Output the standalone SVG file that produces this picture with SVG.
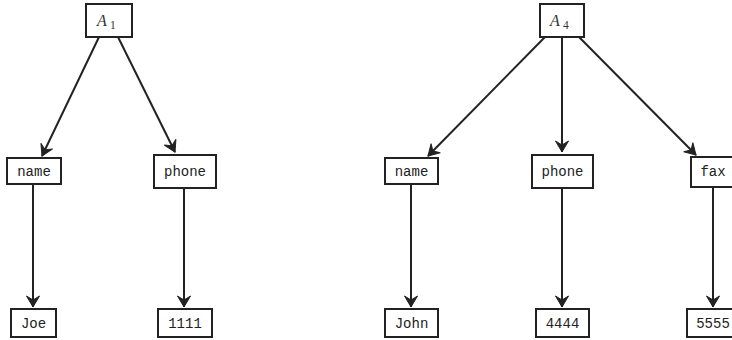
<svg xmlns="http://www.w3.org/2000/svg" width="732" height="340" viewBox="0 0 732 340">
<style>
.box{fill:#fff;stroke:#222;stroke-width:2}
.lbl{font-family:"Liberation Mono","DejaVu Sans Mono",monospace;font-size:14px;fill:#222;text-anchor:middle}
.math{font-family:"Liberation Serif","DejaVu Serif",serif;fill:#333}
.edge{stroke:#222;stroke-width:2;fill:none;marker-end:url(#ah)}
</style>
<defs>
<marker id="ah" markerUnits="userSpaceOnUse" viewBox="-13 -8 15 16" markerWidth="15" markerHeight="16" refX="0" refY="0" orient="auto">
<path d="M0,0 L-11,-6.5 L-7,0 L-11,6.5 Z" fill="#222" stroke="#222" stroke-width="1" stroke-linejoin="miter"/>
</marker>
</defs>
<g id="connectors">
<line class="edge" x1="99" y1="37" x2="42" y2="156"/>
<line class="edge" x1="118" y1="37" x2="175" y2="152"/>
<line class="edge" x1="33" y1="185" x2="33" y2="307"/>
<line class="edge" x1="184" y1="188" x2="184" y2="307"/>
<line class="edge" x1="545" y1="37" x2="428" y2="156"/>
<line class="edge" x1="562" y1="37" x2="562" y2="152"/>
<line class="edge" x1="579" y1="37" x2="696" y2="155"/>
<line class="edge" x1="411" y1="185" x2="411" y2="307"/>
<line class="edge" x1="562" y1="188" x2="562" y2="307"/>
<line class="edge" x1="713" y1="187" x2="713" y2="307"/>
</g>
<g id="A1">
<rect class="box" x="86" y="4" width="46" height="33"/>
<text class="math" x="97" y="26" font-size="16" font-style="italic">A</text>
<text class="math" x="110" y="29" font-size="11.5">1</text>
</g>
<g id="name1">
<rect class="box" x="7" y="158" width="54" height="26"/>
<text class="lbl" x="34" y="176">name</text>
</g>
<g id="phone1">
<rect class="box" x="154" y="155" width="62" height="33"/>
<text class="lbl" x="185" y="176">phone</text>
</g>
<g id="joe">
<rect class="box" x="11" y="309" width="45" height="28"/>
<text class="lbl" x="33.5" y="328">Joe</text>
</g>
<g id="v1111">
<rect class="box" x="158" y="309" width="54" height="28"/>
<text class="lbl" x="185" y="328">1111</text>
</g>
<g id="A4">
<rect class="box" x="540" y="4" width="44" height="33"/>
<text class="math" x="550" y="26" font-size="16" font-style="italic">A</text>
<text class="math" x="563" y="29" font-size="11.5">4</text>
</g>
<g id="name4">
<rect class="box" x="385" y="158" width="53" height="26"/>
<text class="lbl" x="411.5" y="176">name</text>
</g>
<g id="phone4">
<rect class="box" x="532" y="155" width="61" height="33"/>
<text class="lbl" x="562.5" y="176">phone</text>
</g>
<g id="fax4">
<rect class="box" x="691" y="157" width="45" height="30"/>
<text class="lbl" x="713" y="176">fax</text>
</g>
<g id="john">
<rect class="box" x="385" y="309" width="53" height="28"/>
<text class="lbl" x="411.5" y="328">John</text>
</g>
<g id="v4444">
<rect class="box" x="536" y="309" width="53" height="28"/>
<text class="lbl" x="562.5" y="328">4444</text>
</g>
<g id="v5555">
<rect class="box" x="687" y="309" width="50" height="28"/>
<text class="lbl" x="713" y="328">5555</text>
</g>
</svg>
